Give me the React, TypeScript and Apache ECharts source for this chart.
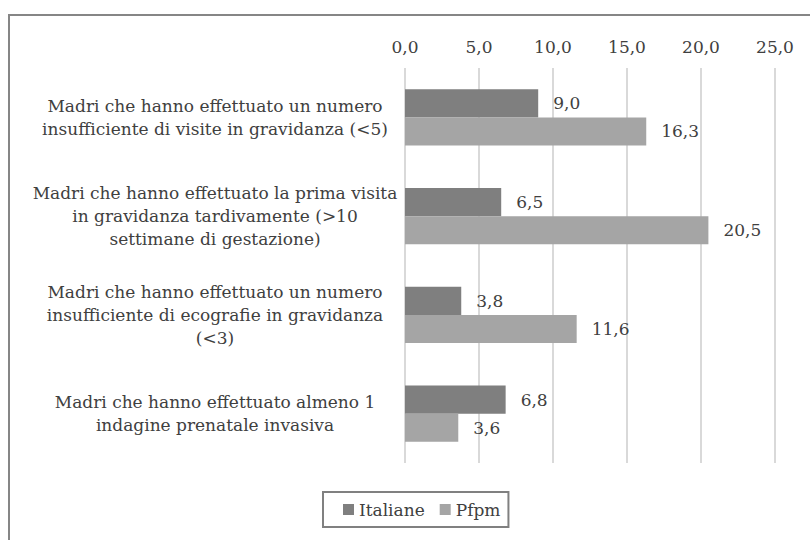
import React, { useEffect, useRef } from "react";
import * as echarts from "echarts";

const categories: string[] = [
  "Madri che hanno effettuato un numero\ninsufficiente di visite in gravidanza (<5)",
  "Madri che hanno effettuato la prima visita\nin gravidanza tardivamente (>10\nsettimane di gestazione)",
  "Madri che hanno effettuato un numero\ninsufficiente di ecografie in gravidanza\n(<3)",
  "Madri che hanno effettuato almeno 1\nindagine prenatale invasiva",
];
const seriesNames: string[] = ["Italiane", "Pfpm"];
const italiane: number[] = [9.0, 6.5, 3.8, 6.8];
const pfpm: number[] = [16.3, 20.5, 11.6, 3.6];
const xMin = 0;
const xMax = 25;
const xInterval = 5;

const FONT = "DejaVu Serif";
const FS = 17;
const TEXT = "#404040";
const fmt = (v: number) => v.toFixed(1).replace(".", ",");

export default function App() {
  const ref = useRef<HTMLDivElement>(null);
  useEffect(() => {
    document.body.style.margin = "0";
    if (!ref.current) return;
    const chart = echarts.init(ref.current, undefined, { renderer: "svg" });
    const barLabel = {
      show: true,
      position: "right" as const,
      distance: 15,
      fontFamily: FONT,
      fontSize: FS,
      color: TEXT,
      formatter: (p: any) => fmt(p.value),
    };
    chart.setOption({
      animation: false,
      backgroundColor: "#ffffff",
      textStyle: { fontFamily: FONT },
      graphic: [
        {
          type: "rect",
          shape: { x: 9, y: 15, width: 900, height: 700 },
          style: { fill: "none", stroke: "#868686", lineWidth: 2 },
          silent: true,
          z: 100,
        },
      ],
      grid: { left: 405, right: 35, top: 68, bottom: 77, containLabel: false },
      legend: {
        data: seriesNames,
        left: 323,
        top: 492,
        orient: "horizontal",
        itemWidth: 11,
        itemHeight: 11,
        itemGap: 15,
        padding: [9, 8, 9, 20],
        borderColor: "#808080",
        borderWidth: 2,
        borderRadius: 0,
        icon: "rect",
        textStyle: { fontFamily: FONT, fontSize: FS, color: TEXT },
      },
      xAxis: {
        type: "value",
        position: "top",
        min: xMin,
        max: xMax,
        interval: xInterval,
        axisLine: { show: false },
        axisTick: { show: false },
        axisLabel: {
          margin: 13,
          fontFamily: FONT,
          fontSize: FS,
          color: TEXT,
          formatter: (v: number) => fmt(v),
        },
        splitLine: { show: true, lineStyle: { color: "#d9d9d9", width: 2 } },
      },
      yAxis: {
        type: "category",
        data: categories,
        inverse: true,
        axisLine: { show: false },
        axisTick: { show: false },
        axisLabel: {
          margin: 190,
          align: "center",
          fontFamily: FONT,
          fontSize: FS,
          lineHeight: 23,
          color: TEXT,
        },
      },
      series: [
        {
          name: seriesNames[0],
          type: "bar",
          data: italiane,
          barGap: "0%",
          barCategoryGap: "43%",
          itemStyle: { color: "#7f7f7f" },
          label: barLabel,
        },
        {
          name: seriesNames[1],
          type: "bar",
          data: pfpm,
          barGap: "0%",
          barCategoryGap: "43%",
          itemStyle: { color: "#a5a5a5" },
          label: barLabel,
        },
      ],
    });
    return () => chart.dispose();
  }, []);
  return <div ref={ref} style={{ width: 810, height: 540 }} />;
}
